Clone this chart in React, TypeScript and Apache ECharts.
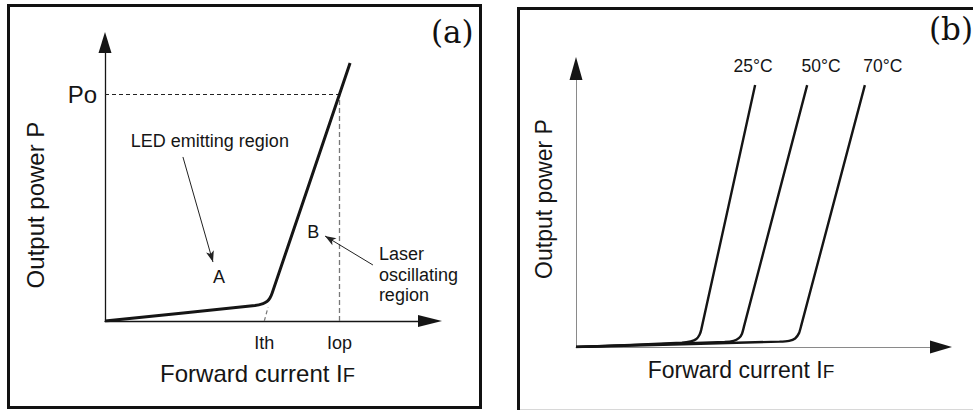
import React, { useEffect, useRef } from "react";
import * as echarts from "echarts";

// ---------- Panel (a): generic L-I curve (arbitrary units 0..100) ----------
const curveA_I = [0, 47.9, 50.5, 51.8, 52.7, 53.4, 78.3];
const curveA_P = [0, 5.8, 6.5, 7.3, 8.6, 10.4, 96.3];
const Ith = 50.9;
const ithExtension = [52.1, 5.2];
const Iop = 74.9;
const Po = 84.7;
const xTickLabelsA = ["Ith", "Iop"];
const yTickLabelsA = ["Po"];

// ---------- Panel (b): L-I curves at three temperatures ----------
const temps = ["25°C", "50°C", "70°C"];
const b25_I = [0, 29.9, 32.4, 34.0, 34.9, 35.4, 50.6];
const b25_P = [0, 1.6, 2.1, 3.0, 4.6, 6.6, 98.1];
const b50_I = [0, 42.0, 44.5, 46.0, 46.9, 47.5, 65.3];
const b50_P = [0, 1.9, 2.3, 3.3, 5.0, 7.9, 98.1];
const b70_I = [0, 57.5, 60.2, 61.9, 63.0, 63.6, 81.6];
const b70_P = [0, 2.0, 2.3, 3.2, 5.2, 7.9, 98.1];

const zip = (xs: number[], ys: number[]) => xs.map((x, i) => [x, ys[i]]);

const FONT = '"Liberation Sans", Arial, Helvetica, sans-serif';
const INK = "#151515";

export default function App() {
  const ref = useRef<HTMLDivElement>(null);

  useEffect(() => {
    if (!ref.current) return;
    const chart = echarts.init(ref.current, null, { renderer: "svg" });

    const nameStyle = (size: number, padding: number[]) => ({
      fontSize: size,
      fontFamily: FONT,
      color: INK,
      padding,
      rich: {
        sub: {
          fontSize: size - 4,
          fontFamily: FONT,
          color: INK,
          verticalAlign: "bottom",
          lineHeight: size - 4,
          padding: [12, 0, 0, 0],
        },
      },
    });

    const baseAxis = {
      type: "value",
      min: 0,
      max: 100,
      splitLine: { show: false },
      axisTick: { show: false },
      nameMoveOverlap: false,
    };

    const arrowOnly = (gridIndex: number, position: string, w: number, h: number) => ({
      ...baseAxis,
      gridIndex,
      position,
      offset: 0,
      axisLabel: { show: false },
      axisLine: {
        show: true,
        onZero: false,
        lineStyle: { color: INK, width: 0 },
        symbol: ["none", "triangle"],
        symbolSize: [w, h],
        symbolOffset: [0, h / 2],
      },
    });

    const tempSeries = [zip(b25_I, b25_P), zip(b50_I, b50_P), zip(b70_I, b70_P)];
    const tempLabelOffsets = [-2, 14, 18];

    const annotationLabel = (text: string, coord: number[], align = "center", extra = {}) => ({
      coord,
      symbol: "circle",
      symbolSize: 0,
      itemStyle: { color: "transparent" },
      label: {
        show: true,
        position: "inside",
        formatter: text,
        color: INK,
        fontSize: 18,
        fontFamily: FONT,
        align,
        ...extra,
      },
    });

    const option = {
      animation: false,
      backgroundColor: "#ffffff",
      grid: [
        { left: 105, top: 53, width: 313, height: 268, outerBoundsMode: "none" },
        { left: 576, top: 80, width: 354, height: 267, outerBoundsMode: "none" },
      ],
      xAxis: [
        {
          ...baseAxis,
          gridIndex: 0,
          position: "bottom",
          axisLine: {
            onZero: false,
            lineStyle: { color: INK, width: 1.3 },
            symbol: ["none", "triangle"],
            symbolSize: [12, 24],
            symbolOffset: [0, 12],
          },
          axisLabel: {
            customValues: [Ith, Iop],
            formatter: (v: number) => (v < (Ith + Iop) / 2 ? xTickLabelsA[0] : xTickLabelsA[1]),
            margin: 13,
            fontSize: 18,
            fontFamily: FONT,
            color: INK,
          },
          name: "Forward current I{sub|F}",
          nameLocation: "middle",
          nameGap: 40,
          nameTextStyle: nameStyle(24, [0, 8, 0, 0]),
        },
        {
          ...baseAxis,
          gridIndex: 1,
          position: "bottom",
          axisLine: { onZero: false, lineStyle: { color: "#8a8a8a", width: 1 } },
          axisLabel: { show: false },
          name: "Forward current I{sub|F}",
          nameLocation: "middle",
          nameGap: 11,
          nameTextStyle: nameStyle(23, [0, 24, 0, 0]),
        },
        arrowOnly(1, "bottom", 13, 22),
      ],
      yAxis: [
        {
          ...baseAxis,
          gridIndex: 0,
          position: "left",
          axisLine: {
            onZero: false,
            lineStyle: { color: INK, width: 1.3 },
            symbol: ["none", "triangle"],
            symbolSize: [13, 21],
            symbolOffset: [0, 10.5],
          },
          axisLabel: {
            customValues: [Po],
            formatter: () => yTickLabelsA[0],
            margin: 8,
            fontSize: 24,
            fontFamily: FONT,
            color: INK,
          },
          name: "Output power P",
          nameLocation: "middle",
          nameRotate: 90,
          nameGap: 58,
          nameTextStyle: { fontSize: 24, fontFamily: FONT, color: INK, padding: [0, 36, 0, 0] },
        },
        {
          ...baseAxis,
          gridIndex: 1,
          position: "left",
          axisLine: { onZero: false, lineStyle: { color: "#8a8a8a", width: 1 } },
          axisLabel: { show: false },
          name: "Output power P",
          nameLocation: "middle",
          nameRotate: 90,
          nameGap: 21,
          nameTextStyle: { fontSize: 23, fontFamily: FONT, color: INK, padding: [0, 0, 0, 29] },
        },
        arrowOnly(1, "left", 13, 23),
      ],
      series: [
        {
          name: "L-I",
          type: "line",
          xAxisIndex: 0,
          yAxisIndex: 0,
          data: zip(curveA_I, curveA_P),
          symbol: "none",
          smooth: 0.2,
          lineStyle: { color: INK, width: 3 },
          z: 5,
          markLine: {
            silent: true,
            symbol: ["none", "none"],
            label: { show: false },
            data: [
              [
                { coord: [0, Po], lineStyle: { color: "#222", width: 1, type: [4, 3] } },
                { coord: [Iop, Po] },
              ],
              [
                { coord: [Iop, 0], lineStyle: { color: "#777", width: 1.3, type: [5, 3] } },
                { coord: [Iop, Po] },
              ],
              [
                { coord: [Ith, 0], lineStyle: { color: "#777", width: 1.2, type: [4, 3] } },
                { coord: ithExtension },
              ],
              [
                { coord: [24.9, 61.2], symbol: "none", lineStyle: { color: "#222", width: 1, type: "solid" } },
                { coord: [34.5, 22.0], symbol: "arrow", symbolSize: [6, 11] },
              ],
              [
                { coord: [85.6, 20.9], symbol: "none", lineStyle: { color: "#222", width: 1, type: "solid" } },
                { coord: [70.3, 31.7], symbol: "arrow", symbolSize: [6, 11] },
              ],
            ],
          },
          markPoint: {
            silent: true,
            data: [
              annotationLabel("LED emitting region", [33.5, 67.2]),
              annotationLabel("A", [36.4, 16.4]),
              annotationLabel("B", [66.5, 33.2]),
              annotationLabel("Laser\noscillating\nregion", [87.5, 17.3], "left", { lineHeight: 20.5 }),
            ],
          },
        },
        ...tempSeries.map((data, i) => ({
          name: temps[i],
          type: "line",
          xAxisIndex: 1,
          yAxisIndex: 1,
          data,
          symbol: "none",
          smooth: 0.2,
          lineStyle: { color: INK, width: 2.4 },
          markPoint: {
            silent: true,
            data: [
              {
                coord: data[data.length - 1],
                symbol: "circle",
                symbolSize: 0,
                itemStyle: { color: "transparent" },
                label: {
                  show: true,
                  position: "top",
                  distance: 10,
                  offset: [tempLabelOffsets[i], 0],
                  formatter: temps[i],
                  color: INK,
                  fontSize: 17.5,
                  fontFamily: FONT,
                },
              },
            ],
          },
        })),
      ],
      graphic: [
        {
          type: "rect",
          shape: { x: 8.5, y: 5.5, width: 472, height: 402 },
          style: { fill: "none", stroke: "#111", lineWidth: 3 },
        },
        {
          type: "rect",
          shape: { x: 518.5, y: 8.5, width: 480, height: 420 },
          style: { fill: "none", stroke: "#111", lineWidth: 3 },
        },
        {
          type: "line",
          shape: { x1: 520, y1: 409.5, x2: 973, y2: 409.5 },
          style: { stroke: "#d8d8d8", lineWidth: 1 },
        },
        {
          type: "text",
          x: 431,
          y: 32,
          style: {
            text: "(a)",
            font: '31px "DejaVu Serif", serif',
            fill: "#111",
            align: "left",
            verticalAlign: "middle",
            textAlign: "left",
            textVerticalAlign: "middle",
          },
        },
        {
          type: "text",
          x: 929,
          y: 29,
          style: {
            text: "(b)",
            font: '31px "DejaVu Serif", serif',
            fill: "#111",
            align: "left",
            verticalAlign: "middle",
            textAlign: "left",
            textVerticalAlign: "middle",
          },
        },
      ],
    };

    chart.setOption(option as any);
    return () => chart.dispose();
  }, []);

  return (
    <div
      ref={ref}
      style={{ position: "absolute", left: 0, top: 0, width: 973, height: 410, background: "#fff" }}
    />
  );
}
